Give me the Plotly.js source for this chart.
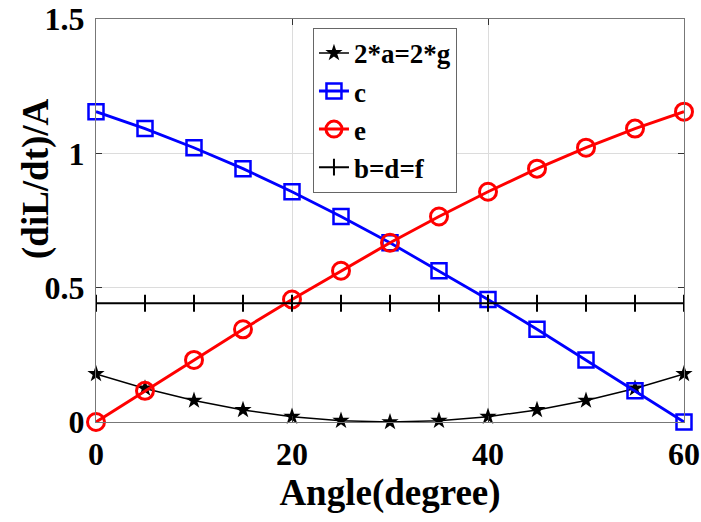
<!DOCTYPE html>
<html><head><meta charset="utf-8">
<script src="https://cdn.plot.ly/plotly-3.0.1.min.js"></script>
<style>html,body{margin:0;padding:0;background:#fff}#plot{width:701px;height:522px}</style>
</head><body><div id="plot"></div>
<script>
const angle = [0,5,10,15,20,25,30,35,40,45,50,55,60];
const seriesA = [0.179,0.125,0.080,0.045,0.020,0.005,0,0.005,0.020,0.045,0.080,0.125,0.179];
const seriesC = [1.155,1.092,1.021,0.943,0.857,0.765,0.667,0.563,0.456,0.345,0.231,0.116,0];
const seriesE = [0,0.116,0.231,0.345,0.456,0.563,0.667,0.765,0.857,0.943,1.021,1.092,1.155];
const seriesB = [0.442,0.442,0.442,0.442,0.442,0.442,0.442,0.442,0.442,0.442,0.442,0.442,0.442];
const names = ['2*a=2*g','c','e','b=d=f'];
const xTicks = [0,20,40,60];
const yTicks = [0,0.5,1,1.5];
const yTickText = ['0','0.5','1','1.5'];
const xTitle = 'Angle(degree)';
const yTitle = '(diL/dt)/A';

const F = 'Liberation Serif, Times New Roman, serif';
const traces = [
  {x:angle,y:seriesA,name:names[0],mode:'lines+markers',cliponaxis:false,
   line:{color:'#000',width:1.5},marker:{symbol:'star',size:13,color:'#000'}},
  {x:angle,y:seriesC,name:names[1],mode:'lines+markers',cliponaxis:false,
   line:{color:'#0000ff',width:2.8},marker:{symbol:'square-open',size:15,color:'#0000ff',line:{width:2.5}}},
  {x:angle,y:seriesE,name:names[2],mode:'lines+markers',cliponaxis:false,
   line:{color:'#ff0000',width:3},marker:{symbol:'circle-open',size:17,color:'#ff0000',line:{width:3}}},
  {x:angle,y:seriesB,name:names[3],mode:'lines+markers',cliponaxis:false,
   line:{color:'#000',width:2},marker:{symbol:'line-ns-open',size:12,color:'#000',line:{width:2}}}
];
const layout = {
  width:701,height:522,
  margin:{l:96,r:17,t:19,b:100},
  paper_bgcolor:'#fff',plot_bgcolor:'#fff',
  font:{family:F,color:'#000'},
  showlegend:true,
  legend:{x:0.369,y:0.978,xanchor:'left',yanchor:'top',bgcolor:'#fff',
    bordercolor:'#666',borderwidth:1,font:{family:F,size:27,weight:'bold',color:'#000'},
    itemwidth:30,tracegroupgap:0},
  xaxis:{range:[0,60],tickvals:xTicks,ticktext:xTicks.map(String),
    showgrid:true,gridcolor:'#dcdcdc',gridwidth:1,zeroline:false,
    showline:true,linecolor:'#777',linewidth:1,mirror:'ticks',
    ticks:'inside',ticklen:6,tickcolor:'#333',ticklabelstandoff:4,
    tickfont:{family:F,size:32,weight:'bold',color:'#000'},
    title:{text:xTitle,font:{family:F,size:37,weight:'bold',color:'#000'},standoff:4}},
  yaxis:{range:[0,1.5],tickvals:yTicks,ticktext:yTickText,
    showgrid:true,gridcolor:'#dcdcdc',gridwidth:1,zeroline:false,
    showline:true,linecolor:'#777',linewidth:1,mirror:'ticks',
    ticks:'inside',ticklen:6,tickcolor:'#333',ticklabelstandoff:4,
    tickfont:{family:F,size:32,weight:'bold',color:'#000'}},
  annotations:[{text:yTitle,textangle:-90,xref:'paper',yref:'paper',
    x:-0.102,y:0.603,xanchor:'center',yanchor:'middle',showarrow:false,
    font:{family:F,size:37,weight:'bold',color:'#000'}}]
};
Plotly.newPlot('plot',traces,layout,{displayModeBar:false,staticPlot:true});
</script></body></html>
